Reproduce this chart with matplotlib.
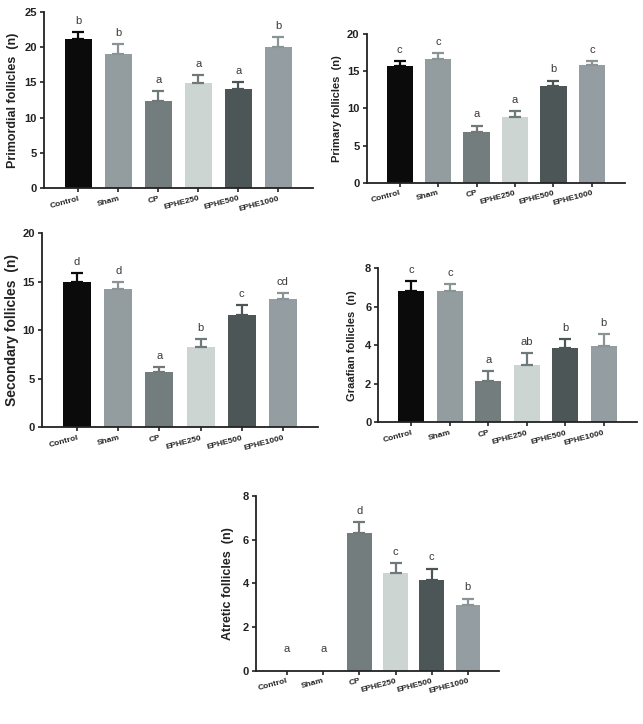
import matplotlib
matplotlib.use("Agg")
import matplotlib.pyplot as plt
import numpy as np

plt.rcParams['font.family'] = ['Liberation Sans', 'DejaVu Sans']

groups = ["Control", "Sham", "CP", "EPHE250", "EPHE500", "EPHE1000"]
colors = ["#0b0b0b", "#939c9f", "#737d7d", "#cdd5d3", "#4c5656", "#949da1"]
err_colors = ["#0b0b0b", "#8a9396", "#6f7979", "#6f7979", "#4c5656", "#8a9396"]

primordial_mean = [21.2, 19.1, 12.4, 14.9, 14.1, 20.0]
primordial_err = [0.9, 1.4, 1.35, 1.1, 0.9, 1.4]
primordial_letters = ["b", "b", "a", "a", "a", "b"]

primary_mean = [15.7, 16.7, 6.8, 8.8, 13.0, 15.8]
primary_err = [0.7, 0.8, 0.9, 0.8, 0.75, 0.6]
primary_letters = ["c", "c", "a", "a", "b", "c"]

secondary_mean = [14.95, 14.3, 5.65, 8.3, 11.6, 13.2]
secondary_err = [0.95, 0.7, 0.55, 0.8, 1.0, 0.6]
secondary_letters = ["d", "d", "a", "b", "c", "cd"]

graafian_mean = [6.84, 6.84, 2.16, 2.99, 3.84, 3.98]
graafian_err = [0.48, 0.33, 0.51, 0.59, 0.49, 0.61]
graafian_letters = ["c", "c", "a", "ab", "b", "b"]

atretic_mean = [0.0, 0.0, 6.29, 4.46, 4.14, 3.0]
atretic_err = [0.0, 0.0, 0.5, 0.48, 0.53, 0.3]
atretic_letters = ["a", "a", "d", "c", "c", "b"]

panels = [
    ("Primordial follicles  (n)", primordial_mean, primordial_err, primordial_letters, 25, 5,
     [0.0684, 0.7403, 0.418, 0.243], 9.0, -0.115),
    ("Primary follicles  (n)", primary_mean, primary_err, primary_letters, 20, 5,
     [0.570, 0.7477, 0.402, 0.205], 8.0, -0.115),
    ("Secondary follicles  (n)", secondary_mean, secondary_err, secondary_letters, 20, 5,
     [0.0649, 0.4098, 0.430, 0.268], 10.0, -0.1075),
    ("Graafian follicles  (n)", graafian_mean, graafian_err, graafian_letters, 8, 2,
     [0.5883, 0.4167, 0.402, 0.2127], 8.0, -0.102),
    ("Atretic follicles  (n)", atretic_mean, atretic_err, atretic_letters, 8, 2,
     [0.398, 0.0736, 0.378, 0.2413], 9.0, -0.115),
]

fig = plt.figure(figsize=(6.43, 7.24), dpi=100)
x = np.arange(len(groups))
for label, means, errs, letters, ymax, ystep, rect, lsize, lx in panels:
    ax = fig.add_axes(rect)
    ax.bar(x, means, width=0.68, color=colors, zorder=2)
    for i in range(len(groups)):
        if errs[i] > 0:
            ax.errorbar(x[i], means[i], yerr=[[0], [errs[i]]], fmt='none',
                        ecolor=err_colors[i], elinewidth=1.6, capsize=4.5, capthick=1.6, zorder=3)
        top = means[i] + errs[i]
        if means[i] == 0:
            top = ymax * 0.06
        ax.annotate(letters[i], (x[i], top), xytext=(0, 4.5), textcoords='offset points',
                    ha='center', va='bottom', fontsize=8, color='#3a3a3a')
    ax.set_xlim(-0.86, 5.86)
    ax.set_ylim(0, ymax)
    ax.set_yticks(np.arange(0, ymax + 0.01, ystep))
    ax.set_xticks(x)
    ax.set_xticklabels(groups, rotation=15, ha='right', rotation_mode='anchor',
                       fontsize=6, fontweight='bold', color='#222222')
    for t in ax.get_yticklabels():
        t.set_fontweight('bold')
        t.set_fontsize(8)
        t.set_color('#222222')
    ax.set_ylabel(label, fontsize=lsize, fontweight='bold', color='#222222',
                  va='center', ha='center')
    ax.yaxis.set_label_coords(lx, 0.5)
    for s in ['top', 'right']:
        ax.spines[s].set_visible(False)
    for s in ['left', 'bottom']:
        ax.spines[s].set_linewidth(1.3)
        ax.spines[s].set_color('#222222')
    ax.tick_params(axis='both', direction='out', length=3, width=1.2, color='#222222', pad=2)

fig.savefig("out.png", dpi=100)
